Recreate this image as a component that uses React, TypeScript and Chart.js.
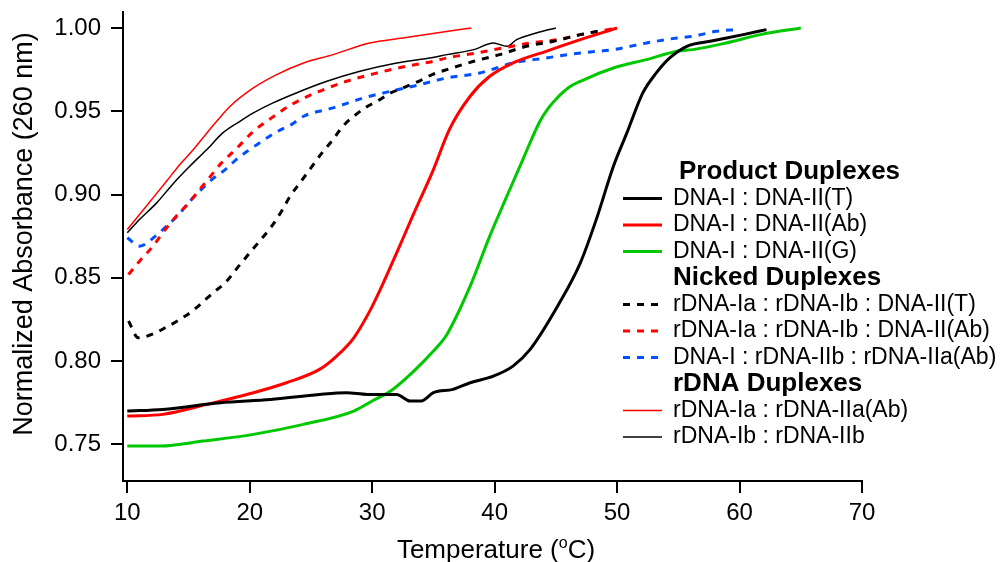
import React, { useEffect, useRef } from 'react';
import { Chart, registerables } from 'chart.js';

Chart.register(...registerables);

const X_TICKS = [10, 20, 30, 40, 50, 60, 70];
const Y_TICKS = [0.75, 0.8, 0.85, 0.9, 0.95, 1.0];

// Product Duplexes
const prodT_x = [10, 12.9, 17.6, 21.7, 25.7, 27.9, 29.6, 32.0, 33.1, 34.0, 35.0, 36.6, 38.0, 39.9, 41.5, 42.9, 45.3, 47.0, 48.3, 49.7, 50.8, 52.1, 53.2, 54.3, 55.7, 57.6, 60.3, 62.2];
const prodT_y = [0.770, 0.771, 0.775, 0.777, 0.780, 0.781, 0.780, 0.780, 0.776, 0.776, 0.781, 0.783, 0.787, 0.791, 0.797, 0.807, 0.835, 0.859, 0.885, 0.917, 0.937, 0.961, 0.973, 0.982, 0.989, 0.992, 0.996, 0.999];

const prodAb_x = [10, 12.9, 16.5, 20.3, 23.0, 25.7, 27.1, 28.5, 29.8, 30.6, 32.0, 33.3, 35.0, 36.3, 38.0, 39.6, 41.5, 44.2, 47.0, 50.0];
const prodAb_y = [0.767, 0.768, 0.774, 0.781, 0.787, 0.795, 0.803, 0.814, 0.830, 0.842, 0.865, 0.887, 0.915, 0.939, 0.959, 0.971, 0.979, 0.986, 0.993, 1.000];

const prodG_x = [10, 12.7, 16.2, 20.3, 24.4, 28.5, 30.0, 31.5, 33.4, 35.0, 36.1, 38.0, 39.6, 41.0, 42.3, 43.7, 44.4, 45.1, 46.0, 47.0, 49.7, 52.4, 54.9, 56.2, 58.9, 61.7, 65.0];
const prodG_y = [0.749, 0.749, 0.752, 0.756, 0.762, 0.770, 0.776, 0.782, 0.794, 0.806, 0.816, 0.845, 0.875, 0.899, 0.921, 0.944, 0.952, 0.958, 0.964, 0.968, 0.976, 0.981, 0.986, 0.987, 0.991, 0.996, 1.000];

// Nicked Duplexes
const nickT_x = [10.1, 10.9, 12.0, 13.1, 14.3, 15.3, 16.1, 17.0, 18.0, 19.1, 20.0, 20.8, 21.8, 22.6, 23.3, 24.2, 25.1, 25.9, 26.8, 27.6, 28.5, 29.4, 30.4, 31.5, 32.5, 33.8, 34.9, 36.1, 38.3, 40.4, 42.6, 44.8, 47.0, 48.4];
const nickT_y = [0.824, 0.814, 0.816, 0.820, 0.825, 0.830, 0.835, 0.841, 0.847, 0.857, 0.865, 0.872, 0.881, 0.890, 0.899, 0.908, 0.917, 0.925, 0.933, 0.941, 0.947, 0.952, 0.956, 0.961, 0.964, 0.968, 0.972, 0.975, 0.980, 0.984, 0.989, 0.992, 0.996, 0.998];

const nickAb_x = [10.1, 11.0, 12.1, 13.1, 14.0, 14.9, 15.8, 16.8, 17.7, 18.7, 19.5, 20.3, 21.4, 23.4, 25.7, 27.9, 30.4, 32.8, 35.0, 36.1, 38.5, 40.7, 42.9, 45.1, 47.0, 50.0];
const nickAb_y = [0.852, 0.860, 0.869, 0.879, 0.887, 0.894, 0.902, 0.911, 0.919, 0.926, 0.932, 0.938, 0.944, 0.954, 0.962, 0.968, 0.973, 0.977, 0.980, 0.982, 0.985, 0.988, 0.991, 0.993, 0.996, 1.000];

const nickBlue_x = [10.0, 11.0, 12.3, 13.2, 14.2, 15.0, 15.9, 16.9, 18.0, 18.9, 20.0, 21.2, 22.3, 23.4, 24.4, 26.8, 29.3, 31.5, 33.9, 36.1, 38.8, 41.5, 44.2, 47.0, 49.7, 52.4, 54.9, 56.2, 58.1, 59.8];
const nickBlue_y = [0.874, 0.869, 0.875, 0.881, 0.888, 0.895, 0.902, 0.909, 0.915, 0.921, 0.927, 0.933, 0.938, 0.942, 0.947, 0.952, 0.958, 0.962, 0.966, 0.970, 0.973, 0.979, 0.982, 0.985, 0.987, 0.991, 0.994, 0.995, 0.998, 0.999];

// rDNA Duplexes
const rIa_x = [10.0, 11.0, 12.1, 13.2, 14.3, 15.4, 16.5, 17.3, 18.4, 20.3, 22.2, 24.4, 26.8, 29.8, 32.5, 36.2, 38.1];
const rIa_y = [0.879, 0.888, 0.898, 0.908, 0.918, 0.927, 0.937, 0.944, 0.953, 0.964, 0.972, 0.979, 0.984, 0.991, 0.994, 0.998, 1.000];

const rIb_x = [10.0, 11.0, 12.4, 13.8, 15.1, 16.5, 17.8, 19.2, 20.3, 21.9, 23.8, 26.3, 29.0, 32.0, 34.7, 36.1, 38.3, 39.9, 41.0, 41.8, 43.4, 45.0];
const rIb_y = [0.877, 0.885, 0.895, 0.907, 0.917, 0.927, 0.937, 0.944, 0.949, 0.955, 0.961, 0.968, 0.974, 0.979, 0.982, 0.984, 0.987, 0.991, 0.989, 0.993, 0.997, 1.000];

const FONT = '"Liberation Sans", Arial, sans-serif';

const SERIES = [
  { label: 'DNA-I : DNA-II(T)', xs: prodT_x, ys: prodT_y, color: '#000000', width: 3, dash: [] as number[] },
  { label: 'DNA-I : DNA-II(Ab)', xs: prodAb_x, ys: prodAb_y, color: '#ff0000', width: 3, dash: [] as number[] },
  { label: 'DNA-I : DNA-II(G)', xs: prodG_x, ys: prodG_y, color: '#00c800', width: 3, dash: [] as number[] },
  { label: 'rDNA-Ia : rDNA-Ib : DNA-II(T)', xs: nickT_x, ys: nickT_y, color: '#000000', width: 3, dash: [7, 7] },
  { label: 'rDNA-Ia : rDNA-Ib : DNA-II(Ab)', xs: nickAb_x, ys: nickAb_y, color: '#ff0000', width: 3, dash: [7, 7] },
  { label: 'DNA-I : rDNA-IIb : rDNA-IIa(Ab)', xs: nickBlue_x, ys: nickBlue_y, color: '#0050ff', width: 3, dash: [7, 7] },
  { label: 'rDNA-Ia : rDNA-IIa(Ab)', xs: rIa_x, ys: rIa_y, color: '#ff0000', width: 1.5, dash: [] as number[] },
  { label: 'rDNA-Ib : rDNA-IIb', xs: rIb_x, ys: rIb_y, color: '#000000', width: 1.5, dash: [] as number[] },
];

const LEGEND_ROWS: Array<{ header?: string; series?: number; indent?: number }> = [
  { header: 'Product Duplexes', indent: 6 },
  { series: 0 },
  { series: 1 },
  { series: 2 },
  { header: 'Nicked Duplexes' },
  { series: 3 },
  { series: 4 },
  { series: 5 },
  { header: 'rDNA Duplexes' },
  { series: 6 },
  { series: 7 },
];

const decorPlugin = {
  id: 'decor',
  afterDraw(chart: any) {
    const ctx = chart.ctx as CanvasRenderingContext2D;
    ctx.save();
    // Legend
    const top = 172;
    const step = 26.5;
    LEGEND_ROWS.forEach((row, i) => {
      const y = top + i * step;
      ctx.textBaseline = 'middle';
      ctx.textAlign = 'left';
      ctx.fillStyle = '#000';
      if (row.header) {
        ctx.font = `bold 26px ${FONT}`;
        ctx.fillText(row.header, 673 + (row.indent || 0), y);
      } else if (row.series !== undefined) {
        const s = SERIES[row.series];
        ctx.beginPath();
        ctx.strokeStyle = s.color;
        ctx.lineWidth = s.width;
        ctx.setLineDash(s.dash);
        ctx.moveTo(623, y);
        ctx.lineTo(662, y);
        ctx.stroke();
        ctx.setLineDash([]);
        ctx.font = `23px ${FONT}`;
        ctx.fillText(s.label, 673, y);
      }
    });
    // Y title
    ctx.save();
    ctx.translate(25, 234);
    ctx.rotate(-Math.PI / 2);
    ctx.font = `27px ${FONT}`;
    ctx.textAlign = 'center';
    ctx.textBaseline = 'middle';
    ctx.fillText('Normalized Absorbance (260 nm)', 0, 0);
    ctx.restore();
    // X title with superscript
    const big = `26px ${FONT}`;
    const small = `16px ${FONT}`;
    const p1 = 'Temperature (';
    const p2 = 'o';
    const p3 = 'C)';
    ctx.font = big;
    const w1 = ctx.measureText(p1).width;
    const w3 = ctx.measureText(p3).width;
    ctx.font = small;
    const w2 = ctx.measureText(p2).width;
    const total = w1 + w2 + w3;
    let x = 496 - total / 2;
    const base = 558;
    ctx.textAlign = 'left';
    ctx.textBaseline = 'alphabetic';
    ctx.font = big;
    ctx.fillText(p1, x, base);
    x += w1;
    ctx.font = small;
    ctx.fillText(p2, x, base - 10);
    x += w2;
    ctx.font = big;
    ctx.fillText(p3, x, base);
    ctx.restore();
  },
};

export default function App() {
  const ref = useRef<HTMLCanvasElement | null>(null);
  useEffect(() => {
    if (!ref.current) return;
    const datasets = SERIES.map((s) => ({
      label: s.label,
      data: s.xs.map((x, i) => ({ x, y: s.ys[i] })),
      borderColor: s.color,
      backgroundColor: s.color,
      borderWidth: s.width,
      borderDash: s.dash,
      pointRadius: 0,
      cubicInterpolationMode: 'monotone' as const,
      fill: false,
    }));
    const chart = new Chart(ref.current, {
      type: 'line',
      data: { datasets },
      plugins: [decorPlugin],
      options: {
        animation: false,
        responsive: false,
        layout: { padding: { left: 0, right: 140, top: 12, bottom: 0 } },
        plugins: { legend: { display: false }, tooltip: { enabled: false } },
        scales: {
          x: {
            type: 'linear',
            min: 9.65,
            max: 70,
            afterBuildTicks: (scale: any) => {
              scale.ticks = X_TICKS.map((v) => ({ value: v }));
            },
            afterFit: (scale: any) => {
              scale.height = 81;
              scale.paddingLeft = 0;
              scale.paddingRight = 0;
            },
            grid: { display: true, drawOnChartArea: false, drawTicks: true, tickLength: 12, color: '#000', lineWidth: 2 },
            border: { display: true, color: '#000', width: 2 },
            ticks: { color: '#000', font: { family: FONT, size: 24 }, padding: 6, maxRotation: 0, autoSkip: false, callback: (v: any) => String(v) },
          },
          y: {
            type: 'linear',
            min: 0.728,
            max: 1.0096,
            afterBuildTicks: (scale: any) => {
              scale.ticks = Y_TICKS.map((v) => ({ value: v }));
            },
            afterFit: (scale: any) => {
              scale.width = 123;
              scale.paddingTop = 0;
              scale.paddingBottom = 0;
            },
            grid: { display: true, drawOnChartArea: false, drawTicks: true, tickLength: 12, color: '#000', lineWidth: 2 },
            border: { display: true, color: '#000', width: 2 },
            ticks: { color: '#000', font: { family: FONT, size: 24 }, padding: 10, autoSkip: false, callback: (v: any) => Number(v).toFixed(2) },
          },
        },
      },
    });
    return () => chart.destroy();
  }, []);
  return (
    <div style={{ position: 'fixed', left: 0, top: 0, width: 1002, height: 562, background: '#fff' }}>
      <canvas ref={ref} width={1002} height={562} />
    </div>
  );
}
